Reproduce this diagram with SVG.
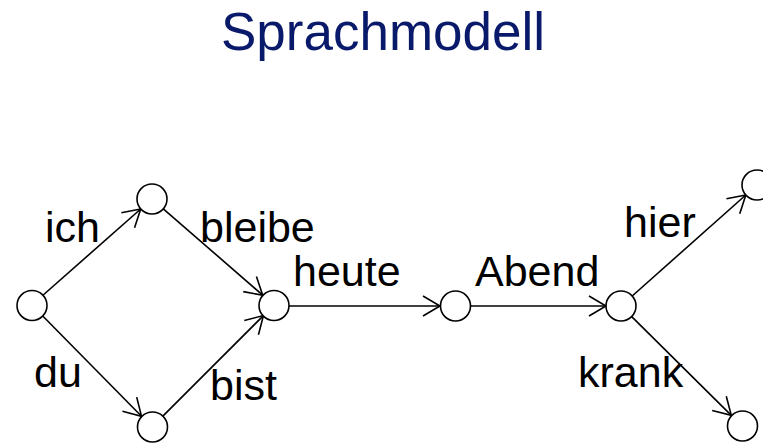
<svg xmlns="http://www.w3.org/2000/svg" width="763" height="443" viewBox="0 0 763 443">
<defs>
<style>
.n{fill:#fff;stroke:#000;stroke-width:1.6}
.e{stroke:#000;stroke-width:1.6;fill:none;marker-end:url(#ah)}
.t{font-family:"Liberation Sans",Arial,sans-serif;font-size:43px;fill:#000}
.title{font-family:"Liberation Sans",Arial,sans-serif;font-size:53px;fill:#0a1a6a;text-anchor:middle}
</style>
<marker id="ah" markerUnits="userSpaceOnUse" markerWidth="30" markerHeight="30" refX="0" refY="0" viewBox="-20 -15 25 30" orient="auto" overflow="visible">
<path d="M-17,-10 L0,0 L-17,10" fill="none" stroke="#000" stroke-width="1.6"/>
</marker>
</defs>
<rect width="763" height="443" fill="#fff"/>
<text class="title" x="383" y="50">Sprachmodell</text>
<g id="connectors">
<line class="e" x1="43.2" y1="295" x2="140.7" y2="209"/>
<line class="e" x1="42.5" y1="315.7" x2="141.5" y2="416.3"/>
<line class="e" x1="163.3" y1="208.8" x2="262.7" y2="295.2"/>
<line class="e" x1="162.6" y1="416.4" x2="263.4" y2="315.6"/>
<line class="e" x1="289" y1="306" x2="440" y2="306"/>
<line class="e" x1="470.5" y1="306" x2="606" y2="306"/>
<line class="e" x1="632.2" y1="296" x2="745.8" y2="195"/>
<line class="e" x1="631.7" y1="316.6" x2="731.3" y2="415.4"/>
</g>
<g id="labels">
<text class="t" x="45" y="242">ich</text>
<text class="t" x="200" y="242">bleibe</text>
<text class="t" x="34" y="387">du</text>
<text class="t" x="210" y="400">bist</text>
<text class="t" x="293" y="286">heute</text>
<text class="t" x="475" y="286">Abend</text>
<text class="t" x="624" y="237">hier</text>
<text class="t" x="578" y="387">krank</text>
</g>
<g id="n0"><circle class="n" cx="32" cy="305.5" r="15"/></g>
<g id="n1"><circle class="n" cx="152" cy="199" r="15"/></g>
<g id="n2"><circle class="n" cx="152.5" cy="427" r="15"/></g>
<g id="n3"><circle class="n" cx="274" cy="305.5" r="15"/></g>
<g id="n4"><circle class="n" cx="455.5" cy="306" r="15"/></g>
<g id="n5"><circle class="n" cx="621" cy="306" r="15"/></g>
<g id="n6"><circle class="n" cx="757" cy="185" r="15"/></g>
<g id="n7"><circle class="n" cx="742.5" cy="426" r="15"/></g>
</svg>
